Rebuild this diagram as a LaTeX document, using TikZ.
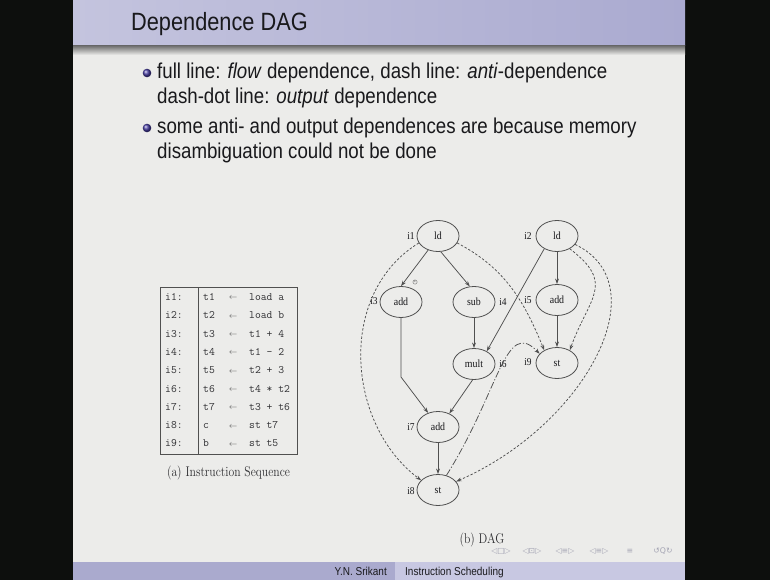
\documentclass[tikz,border=0pt]{standalone}
\usepackage{fontspec}
\usetikzlibrary{shapes.geometric,arrows.meta}
\newfontfamily\slidesans[FakeStretch=0.87]{Liberation Sans}
\newfontfamily\figserif[FakeStretch=0.9]{Liberation Serif}
\newfontfamily\navsym{DejaVu Sans}
\definecolor{frameblack}{RGB}{13,15,13}
\definecolor{slidebg}{RGB}{236,236,234}
\definecolor{titleL}{RGB}{196,196,222}
\definecolor{titleR}{RGB}{170,170,208}
\definecolor{footL}{RGB}{170,170,206}
\definecolor{footR}{RGB}{200,200,226}
\definecolor{bulletc}{RGB}{70,60,160}
\definecolor{txt}{RGB}{25,25,28}
\definecolor{edgec}{RGB}{80,80,80}
\definecolor{navc}{RGB}{165,165,180}
\begin{document}
\begin{tikzpicture}[x=1pt,y=-1pt,
  titletext/.style={anchor=base west,inner sep=0,text=txt,font=\slidesans\fontsize{25}{28}\selectfont},
  bodytext/.style={anchor=base west,inner sep=0,text=txt,font=\slidesans\fontsize{21.5}{25}\selectfont},
  foottext/.style={inner sep=0,text=txt,font=\slidesans\fontsize{11.5}{13}\selectfont},
  caption/.style={inner sep=0,text=txt!90,font=\fontsize{11.7}{13}\selectfont},
  codetext/.style={anchor=base west,inner sep=0,text=txt!90,font=\ttfamily\fontsize{11.3}{12}\selectfont},
  arrowtext/.style={anchor=base,inner sep=0,text=edgec,font=\fontsize{8.5}{9}\selectfont},
  dagnode/.style={ellipse,draw=edgec,line width=0.8pt,minimum width=42pt,minimum height=31pt,
    inner sep=0pt,text=txt,font=\figserif\fontsize{11}{12}\selectfont},
  idlabel/.style={inner sep=0,text=txt,font=\figserif\fontsize{10.5}{11}\selectfont},
  flow/.style={draw=edgec,line width=0.75pt,-{Stealth[length=5.5pt,width=3.8pt]}},
  anti/.style={flow,dash pattern=on 2.4pt off 1.8pt},
  outdep/.style={flow,dash pattern=on 7pt off 2pt on 1.2pt off 2pt},
  navtext/.style={inner sep=0,text=navc,font=\navsym\fontsize{7.8}{8}\selectfont}]

\useasboundingbox (0,0) rectangle (770,580);

% frame, slide body, title bar with its shadow, footer
\fill[frameblack] (0,0) rectangle (770,580);
\fill[slidebg] (73,0) rectangle (685,580);
\shade[left color=titleL,right color=titleR] (73,0) rectangle (685,46);
\shade[top color=black!55,bottom color=slidebg] (73,46) rectangle (685,55);
\fill[footL] (73,562) rectangle (395,580);
\fill[footR] (395,562) rectangle (685,580);

% title and bullets
\node[titletext] (title) at (131,31) {Dependence DAG};
\shade[ball color=bulletc] (147,73) circle (4.3);
\node[bodytext] (b1a) at (157,79) {full line: \textit{flow} dependence, dash line: \textit{anti}-dependence};
\node[bodytext] (b1b) at (157,104) {dash-dot line: \textit{output} dependence};
\shade[ball color=bulletc] (147,128) circle (4.3);
\node[bodytext] (b2a) at (157,134) {some anti- and output dependences are because memory};
\node[bodytext] (b2b) at (157,159) {disambiguation could not be done};

% instruction sequence table
\draw[edgec,line width=0.7pt] (160,287) rectangle (297,454);
\draw[edgec,line width=0.7pt] (198,287) -- (198,454);
\foreach \n/\lhs/\rhs in {1/t1/load a,2/t2/load b,3/t3/t1 + 4,4/t4/t1 - 2,5/t5/t2 + 3,
                          6/t6/t4 * t2,7/t7/t3 + t6,8/c/st t7,9/b/st t5}{
  \pgfmathsetmacro{\yb}{296.7+18.3*(\n-1)+3.8}
  \node[codetext] (lab\n) at (165,\yb) {i\n:};
  \node[codetext] (lhs\n) at (203,\yb) {\lhs};
  \node[arrowtext] (asg\n) at (233,\yb-0.6) {$\leftarrow$};
  \node[codetext] (rhs\n) at (249,\yb) {\rhs};
}
\node[caption] (capa) at (228.5,473) {\scalebox{1}[1.2]{(a) Instruction Sequence}};

% dependence DAG
\node[dagnode] (i1) at (438,236) {ld};
\node[dagnode] (i2) at (557,236) {ld};
\node[dagnode] (i3) at (401,302) {add};
\node[dagnode] (i4) at (474,302) {sub};
\node[dagnode] (i5) at (557,300) {add};
\node[dagnode] (i6) at (474,364) {mult};
\node[dagnode] (i9) at (557,363) {st};
\node[dagnode] (i7) at (438,427) {add};
\node[dagnode] (i8) at (438,490) {st};

\node[idlabel] (l1) at (411,236) {i1};
\node[idlabel] (l2) at (528,236) {i2};
\node[idlabel] (l3) at (374,301) {i3};
\node[idlabel] (l4) at (503,302) {i4};
\node[idlabel] (l5) at (528,300) {i5};
\node[idlabel] (l6) at (503,364) {i6};
\node[idlabel] (l9) at (528,362) {i9};
\node[idlabel] (l7) at (411,427) {i7};
\node[idlabel] (l8) at (411,491) {i8};
\node[circle,draw=edgec!80,line width=0.4pt,inner sep=0.3pt,text=edgec,
      font=\fontsize{4.5}{5}\selectfont] (mark) at (415,282) {c};

% flow dependences
\draw[flow] (i1.235) -- (i3.north);
\draw[flow] (i1.280) -- (i4.105);
\draw[flow] (i2.south) -- (i5.north);
\draw[flow] (i2.225) -- (i6.45);
\draw[flow] (i4.south) -- (i6.north);
\draw[flow] (i5.south) -- (i9.north);
\coordinate (k3) at (401,377);
\draw[flow] (i3.south) -- (k3) -- (i7.125);
\draw[flow] (i6.265) -- (i7.50);
\draw[flow] (i7.south) -- (i8.north);

% anti-dependences
\draw[anti] (i1.200) .. controls (336,294) and (347,425) .. (i8.150);
\draw[anti] (i1.340) .. controls (505,268) and (524,301) .. (i9.135);
\draw[anti] (i2.315) .. controls (616,284) and (589,297) .. (i9.45);
\draw[anti] (i2.335) .. controls (660,285) and (585,425) .. (i8.25);

% output dependence
\draw[outdep] (i8.60) .. controls (500,390) and (505,318) .. (i9.152);

\node[caption] (capb) at (482,539.5) {\scalebox{1}[1.2]{(b) DAG}};

% navigation symbols
\node[navtext] (nav1) at (501,551) {◁□▷};
\node[navtext] (nav2) at (532,551) {◁⊡▷};
\node[navtext] (nav3) at (565,551) {◁≡▷};
\node[navtext] (nav4) at (599,551) {◁≡▷};
\node[navtext] (nav5) at (630,551) {≡};
\node[navtext] (nav6) at (663,551) {↺Q↻};

% footer
\node[foottext,anchor=base east] (author) at (387,575.5) {Y.N. Srikant};
\node[foottext,anchor=base west] (talk) at (405,575.5) {Instruction Scheduling};
\end{tikzpicture}
\end{document}
